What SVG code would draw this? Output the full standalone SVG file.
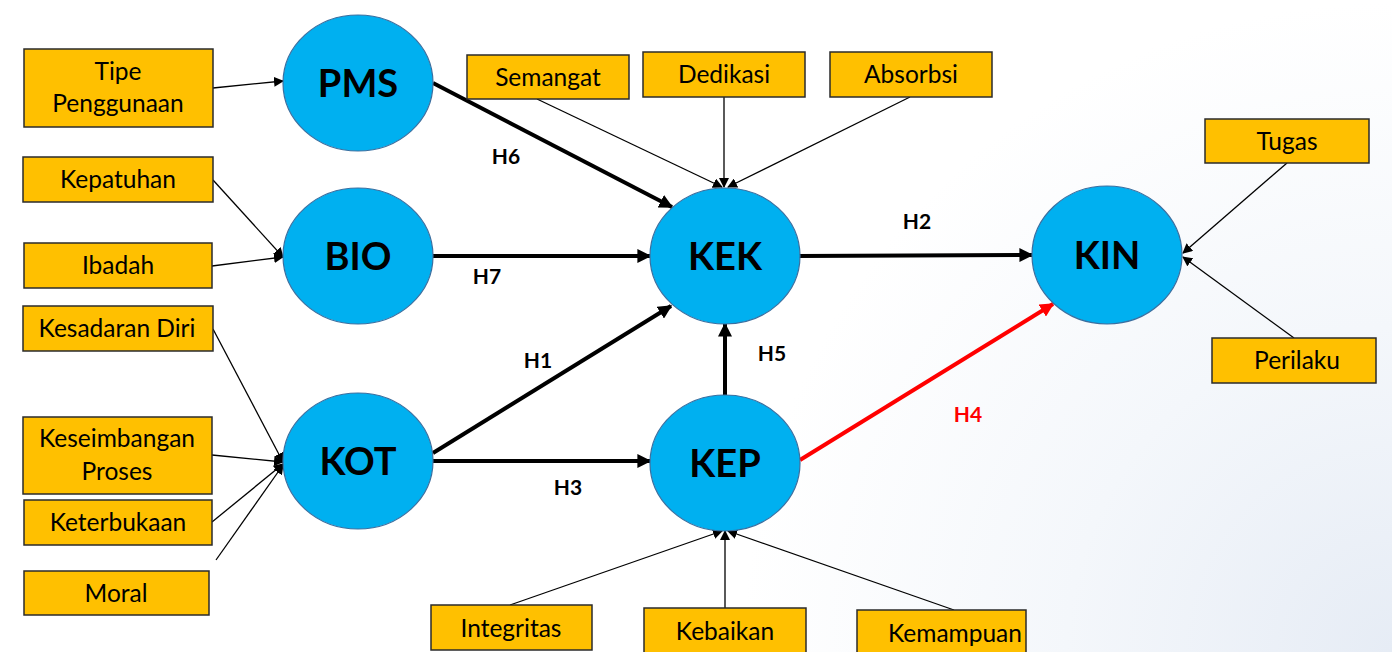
<svg xmlns="http://www.w3.org/2000/svg" width="1392" height="652" viewBox="0 0 1392 652">
<defs>
<radialGradient id="bg" cx="1392" cy="652" r="650" gradientUnits="userSpaceOnUse">
<stop offset="0" stop-color="#e6ecf5"/>
<stop offset="0.5" stop-color="#f4f7fb"/>
<stop offset="1" stop-color="#ffffff"/>
</radialGradient>
<marker id="ah" viewBox="0 0 10 10" refX="9" refY="5" markerWidth="10" markerHeight="10" markerUnits="userSpaceOnUse" orient="auto"><path d="M0,0 L10,5 L0,10 z" fill="#000"/></marker>
<marker id="ahT" viewBox="0 0 10 10" refX="9" refY="5" markerWidth="14" markerHeight="14" markerUnits="userSpaceOnUse" orient="auto"><path d="M0,0 L10,5 L0,10 z" fill="#000"/></marker>
<marker id="ahR" viewBox="0 0 10 10" refX="9" refY="5" markerWidth="14" markerHeight="14" markerUnits="userSpaceOnUse" orient="auto"><path d="M0,0 L10,5 L0,10 z" fill="#ff0000"/></marker>
</defs>
<style>
.box{fill:#ffc000;stroke:#2b2b2b;stroke-width:1.5}
.lat{fill:#00b0f0;stroke:#3a6fa0;stroke-width:1.2}
.bt{font-family:Lato,"Open Sans","Liberation Sans",sans-serif;font-size:24.5px;fill:#000;text-anchor:middle}
.ct{font-family:Lato,"Open Sans","Liberation Sans",sans-serif;font-size:38px;font-weight:bold;fill:#000;text-anchor:middle}
.ht{font-family:Lato,"Open Sans","Liberation Sans",sans-serif;font-size:21px;font-weight:bold;fill:#000;text-anchor:middle}
.thin{stroke:#000;stroke-width:1.3;fill:none;marker-end:url(#ah)}
.thick{stroke:#000;stroke-width:4;fill:none;marker-end:url(#ahT)}
.red{stroke:#ff0000;stroke-width:4;fill:none;marker-end:url(#ahR)}
</style>
<rect width="1392" height="652" fill="url(#bg)"/>
<g id="connectors">
<line class="thin" x1="213" y1="88" x2="283" y2="81"/>
<line class="thin" x1="213" y1="180" x2="283" y2="257"/>
<line class="thin" x1="212" y1="266" x2="283" y2="257"/>
<line class="thin" x1="213" y1="329" x2="283" y2="462"/>
<line class="thin" x1="212" y1="455" x2="283" y2="462"/>
<line class="thin" x1="212" y1="522" x2="283" y2="464"/>
<line class="thin" x1="216" y1="560" x2="283" y2="465"/>
<line class="thick" x1="433" y1="83" x2="672" y2="207"/>
<line class="thick" x1="433" y1="256" x2="650" y2="256"/>
<line class="thick" x1="433" y1="453" x2="671" y2="306"/>
<line class="thick" x1="433" y1="461" x2="650" y2="461"/>
<line class="thick" x1="725" y1="395" x2="725" y2="324"/>
<line class="thick" x1="799" y1="256" x2="1032" y2="255"/>
<line class="red" x1="800" y1="460" x2="1053" y2="304"/>
<line class="thin" x1="537" y1="99" x2="722" y2="187"/>
<line class="thin" x1="724" y1="97" x2="724" y2="187"/>
<line class="thin" x1="910" y1="97" x2="728" y2="187"/>
<line class="thin" x1="510" y1="605" x2="722" y2="531"/>
<line class="thin" x1="725" y1="608" x2="725" y2="531"/>
<line class="thin" x1="954" y1="610" x2="728" y2="531"/>
<line class="thin" x1="1287" y1="163" x2="1183" y2="253"/>
<line class="thin" x1="1294" y1="338" x2="1183" y2="257"/>
<text class="ht" x="506" y="164">H6</text>
<text class="ht" x="487" y="284">H7</text>
<text class="ht" x="538" y="368">H1</text>
<text class="ht" x="568" y="495">H3</text>
<text class="ht" x="772" y="361">H5</text>
<text class="ht" x="917" y="229">H2</text>
<text class="ht" x="968" y="422" style="fill:#ff0000">H4</text>
</g>
<g id="PMS"><ellipse class="lat" cx="358" cy="83" rx="75" ry="68"/><text class="ct" x="358" y="97">PMS</text></g>
<g id="BIO"><ellipse class="lat" cx="358" cy="256" rx="75" ry="68"/><text class="ct" x="358" y="270">BIO</text></g>
<g id="KOT"><ellipse class="lat" cx="358" cy="461" rx="75" ry="68"/><text class="ct" x="358" y="475">KOT</text></g>
<g id="KEK"><ellipse class="lat" cx="725" cy="256" rx="75" ry="68"/><text class="ct" x="725" y="270">KEK</text></g>
<g id="KEP"><ellipse class="lat" cx="725" cy="463" rx="75" ry="68"/><text class="ct" x="725" y="477">KEP</text></g>
<g id="KIN"><ellipse class="lat" cx="1107" cy="255" rx="75" ry="69"/><text class="ct" x="1107" y="269">KIN</text></g>
<g id="TipePenggunaan"><rect class="box" x="24" y="49" width="189" height="78"/><text class="bt" x="118" y="80">Tipe</text><text class="bt" x="118" y="112">Penggunaan</text></g>
<g id="Kepatuhan"><rect class="box" x="23" y="157" width="190" height="45"/><text class="bt" x="118" y="188">Kepatuhan</text></g>
<g id="Ibadah"><rect class="box" x="24" y="243" width="188" height="45"/><text class="bt" x="118" y="274">Ibadah</text></g>
<g id="KesadaranDiri"><rect class="box" x="23" y="306" width="190" height="45"/><text class="bt" x="117" y="337">Kesadaran Diri</text></g>
<g id="KeseimbanganProses"><rect class="box" x="23" y="417" width="189" height="77"/><text class="bt" x="117" y="447">Keseimbangan</text><text class="bt" x="117" y="480">Proses</text></g>
<g id="Keterbukaan"><rect class="box" x="24" y="500" width="188" height="45"/><text class="bt" x="118" y="531">Keterbukaan</text></g>
<g id="Moral"><rect class="box" x="24" y="571" width="185" height="44"/><text class="bt" x="116" y="602">Moral</text></g>
<g id="Semangat"><rect class="box" x="467" y="55" width="162" height="44"/><text class="bt" x="548" y="86">Semangat</text></g>
<g id="Dedikasi"><rect class="box" x="643" y="52" width="162" height="45"/><text class="bt" x="724" y="83">Dedikasi</text></g>
<g id="Absorbsi"><rect class="box" x="830" y="52" width="162" height="45"/><text class="bt" x="911" y="83">Absorbsi</text></g>
<g id="Tugas"><rect class="box" x="1205" y="119" width="164" height="44"/><text class="bt" x="1287" y="150">Tugas</text></g>
<g id="Perilaku"><rect class="box" x="1212" y="338" width="164" height="45"/><text class="bt" x="1297" y="369">Perilaku</text></g>
<g id="Integritas"><rect class="box" x="431" y="605" width="161" height="45"/><text class="bt" x="511" y="637">Integritas</text></g>
<g id="Kebaikan"><rect class="box" x="644" y="608" width="162" height="46"/><text class="bt" x="725" y="640">Kebaikan</text></g>
<g id="Kemampuan"><rect class="box" x="857" y="610" width="169" height="46"/><text class="bt" x="955" y="642">Kemampuan</text></g>
</svg>
